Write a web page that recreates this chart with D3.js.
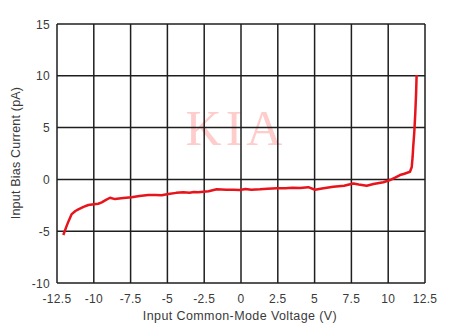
<!DOCTYPE html>
<html>
<head>
<meta charset="utf-8">
<script src="https://cdn.jsdelivr.net/npm/d3@7"></script>
<style>
  body { margin: 0; background: #fff; }
  svg { display: block; }
</style>
</head>
<body>
<div id="chart"></div>
<script>
// input common-mode voltage (V) vs input bias current (pA)
const voltage = [-12.07, -11.9, -11.73, -11.5, -11.25, -11.05, -10.7, -10.37, -10.0, -9.7,
  -9.46, -9.2, -8.9, -8.56, -8.0, -7.43, -6.9, -6.3, -5.8, -5.39,
  -4.94, -4.4, -3.92, -3.5, -3.2, -2.9, -2.56, -2.2, -1.65, -1.0,
  -0.5, -0.07, 0.3, 0.7, 1.29, 1.8, 2.43, 3.0, 3.5, 4.0,
  4.57, 5.03, 5.5, 6.27, 7.0, 7.63, 8.0, 8.54, 9.0, 9.67,
  10.12, 10.5, 10.8, 11.1, 11.48, 11.6, 11.66, 11.7, 11.77, 11.84,
  11.9, 11.93]
const current = [-5.37, -4.7, -4.08, -3.35, -3.05, -2.89, -2.65, -2.47, -2.4, -2.35,
  -2.21, -2.0, -1.77, -1.9, -1.8, -1.72, -1.6, -1.5, -1.5, -1.53,
  -1.4, -1.3, -1.25, -1.28, -1.22, -1.25, -1.19, -1.15, -0.95, -1.0,
  -1.0, -1.02, -0.93, -1.0, -0.96, -0.9, -0.86, -0.86, -0.8, -0.82,
  -0.75, -1.0, -0.88, -0.72, -0.62, -0.4, -0.5, -0.62, -0.45, -0.28,
  -0.06, 0.2, 0.42, 0.55, 0.74, 1.2, 2.19, 3.16, 4.5, 6.38,
  8.5, 10.08]

const xTicks = [-12.5, -10, -7.5, -5, -2.5, 0, 2.5, 5, 7.5, 10, 12.5]
const yTicks = [-10, -5, 0, 5, 10, 15]

function draw_chart() {
    const width = 462, height = 326
    const margins = {'left': 57, 'right': 37, 'top': 24, 'bottom': 43}

    const svg = d3.select('#chart').append('svg')
        .attr('width', width).attr('height', height)

    const x = d3.scaleLinear().domain([-12.5, 12.5]).range([margins.left, width - margins.right])
    const y = d3.scaleLinear().domain([-10, 15]).range([height - margins.bottom, margins.top])

    // watermark
    svg.append('text')
        .attr('x', 236).attr('y', 145)
        .attr('text-anchor', 'middle')
        .style('font-family', '"Liberation Serif", "DejaVu Serif", serif')
        .style('font-size', '50px').style('letter-spacing', '4px')
        .attr('fill', '#ffcccc')
        .text('KIA')

    // grid
    svg.append('g').selectAll('line').data(xTicks).join('line')
        .attr('x1', d => x(d)).attr('x2', d => x(d))
        .attr('y1', y(15)).attr('y2', y(-10))
        .attr('stroke', '#1e1e1e').attr('stroke-width', 1.5)
    svg.append('g').selectAll('line').data(yTicks).join('line')
        .attr('y1', d => y(d)).attr('y2', d => y(d))
        .attr('x1', x(-12.5)).attr('x2', x(12.5))
        .attr('stroke', '#1e1e1e').attr('stroke-width', 1.5)

    // tick labels
    const font = '"Liberation Sans", Arial, sans-serif'
    svg.append('g').selectAll('text').data(xTicks).join('text')
        .attr('x', d => x(d)).attr('y', y(-10) + 19.5)
        .attr('text-anchor', 'middle')
        .style('font-family', font).style('font-size', '12px').style('letter-spacing', '0.3px')
        .attr('fill', '#3a3a3a')
        .text(d => d)
    svg.append('g').selectAll('text').data(yTicks).join('text')
        .attr('x', x(-12.5) - 7).attr('y', d => y(d) + 4.5)
        .attr('text-anchor', 'end')
        .style('font-family', font).style('font-size', '12px').style('letter-spacing', '0.3px')
        .attr('fill', '#3a3a3a')
        .text(d => d)

    // axis titles
    svg.append('text')
        .attr('x', 240).attr('y', 320)
        .attr('text-anchor', 'middle')
        .style('font-family', font).style('font-size', '12.5px').style('letter-spacing', '0.4px')
        .attr('fill', '#3a3a3a')
        .text('Input Common-Mode Voltage (V)')
    svg.append('text')
        .attr('transform', 'translate(20,153) rotate(-90)')
        .attr('text-anchor', 'middle')
        .style('font-family', font).style('font-size', '12.5px').style('letter-spacing', '0.2px')
        .attr('fill', '#3a3a3a')
        .text('Input Bias Current (pA)')

    // curve
    const line = d3.line().x(i => x(voltage[i])).y(i => y(current[i]))
    svg.append('path')
        .datum(d3.range(voltage.length))
        .attr('d', line)
        .attr('fill', 'none')
        .attr('stroke', '#e8141c').attr('stroke-width', 2.5)
        .attr('stroke-linejoin', 'round')
}

draw_chart()
</script>
</body>
</html>
